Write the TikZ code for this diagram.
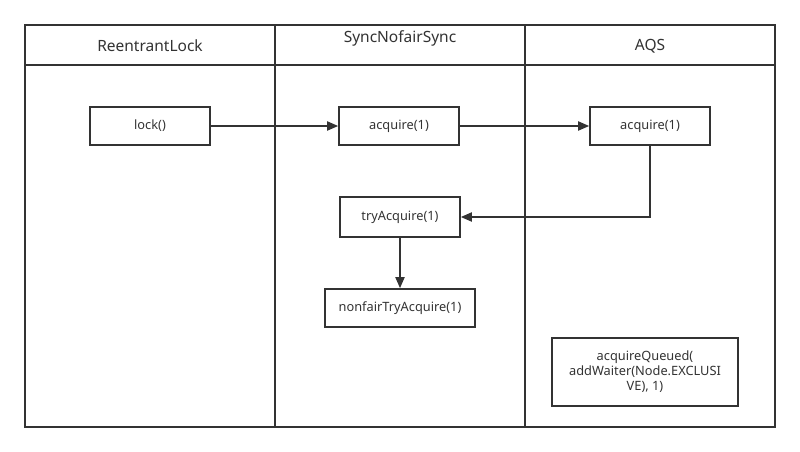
\documentclass[tikz,border=0pt]{standalone}
\usepackage{fontspec}
\setmainfont{Noto Sans}
\usetikzlibrary{arrows.meta}
\tikzset{
	fnbox/.style={draw=black!80, line width=1.6pt, minimum width=120pt, minimum height=38pt, inner sep=0pt, font=\fontsize{12.8}{15}\selectfont, text=black!80},
	flow/.style={draw=black!80, line width=1.8pt, -{Triangle[length=11pt, width=9pt]}},
	lane/.style={draw=black!80, line width=1.6pt},
	lanehead/.style={text=black!80, font=\fontsize{15.5}{18}\selectfont}
}

\begin{document}
\begin{tikzpicture}[x=1pt, y=-1pt]
		%%%%% START %%%%%
		
		\useasboundingbox[fill=white] (0, 0) rectangle (800, 452);
		
		\draw[lane] (25, 25) rectangle (775, 427);
		\draw[lane] (25, 65) -- (775, 65);
		\draw[lane] (275, 25) -- (275, 427);
		\draw[lane] (525, 25) -- (525, 427);
		
		\node[lanehead] (hdrLock) at (150, 46) {ReentrantLock};
		\node[lanehead] (hdrSync) at (400, 38) {SyncNofairSync};
		\node[lanehead] (hdrAqs) at (650, 46) {AQS};
		
		\node[fnbox] (lock) at (150, 126) {lock()};
		\node[fnbox] (syncAcq) at (399, 126) {acquire(1)};
		\node[fnbox] (aqsAcq) at (650, 126) {acquire(1)};
		\node[fnbox, minimum height=40pt] (tryAcq) at (400, 217) {tryAcquire(1)};
		\node[fnbox, minimum width=150pt] (nonfair) at (400, 308) {nonfairTryAcquire(1)};
		\node[fnbox, minimum width=186pt, minimum height=68pt, align=center] (queued) at (645, 372) {acquireQueued(\\addWaiter(Node.EXCLUSI\\VE), 1)};
		
		\draw[flow] (lock) -- (syncAcq);
		\draw[flow] (syncAcq) -- (aqsAcq);
		\draw[flow] (aqsAcq.south) |- (tryAcq.east);
		\draw[flow] (tryAcq) -- (nonfair);
		
		%%%%% END %%%%%
	\end{tikzpicture}
\end{document}
